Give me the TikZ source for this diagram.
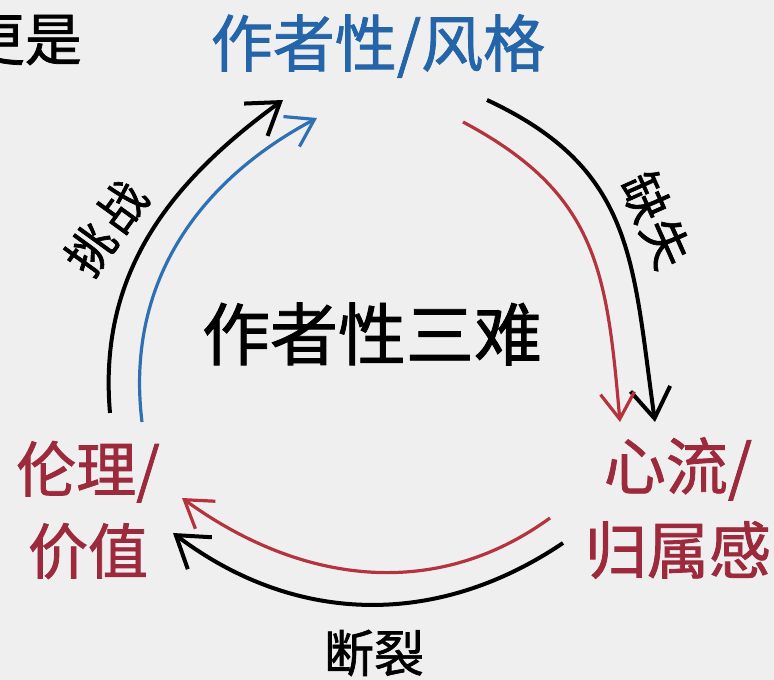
\documentclass[tikz,border=0pt]{standalone}
\usepackage{fontspec}
\setmainfont{Noto Sans CJK SC}[FakeBold=1.3]
\usepackage{xcolor}
\usetikzlibrary{arrows.meta}
\definecolor{bggray}{HTML}{EFEFEF}
\definecolor{styleblue}{HTML}{2464A8}
\definecolor{arcblue}{HTML}{2F70B5}
\definecolor{valred}{HTML}{9C2A3C}
\definecolor{arcred}{HTML}{B5323F}

\begin{document}
\begin{tikzpicture}[x=1pt,y=1pt,
  lbl/.style={inner sep=0pt,font=\fontsize{48}{48}\selectfont},
  blkarc/.style={line width=4pt,-{Straight Barb[length=30pt,width=40pt]}},
  colarc/.style={line width=3.2pt,-{Straight Barb[length=26pt,width=34pt]}}]
\fill[bggray] (0,0) rectangle (774,680);
\useasboundingbox (0,0) rectangle (774,680);
\node[anchor=east,inner sep=0pt,font=\fontsize{57}{57}\selectfont] (pre) at (82,640) {更是};
\node[inner sep=0pt,text=styleblue,font=\fontsize{62}{62}\selectfont] (style) at (378,634) {作者性/风格};
\node[inner sep=0pt,font=\fontsize{68}{68}\selectfont] (tri) at (372,346) {作者性三难};
\node[inner sep=0pt,text=valred,align=center,font=\fontsize{60}{82}\selectfont] (ethic) at (88,170) {伦理/\\价值};
\node[inner sep=0pt,text=valred,align=center,font=\fontsize{62}{84}\selectfont] (flow) at (678,172) {心流/\\归属感};
\coordinate (chal-s) at (110,267);
\coordinate (chal-e) at (283,580);
\coordinate (chalb-s) at (142,258);
\coordinate (chalb-e) at (317,562);
\coordinate (lack-s) at (487,580);
\coordinate (lack-e) at (655,258);
\coordinate (lackr-s) at (463,558);
\coordinate (lackr-e) at (620,258);
\coordinate (brk-s) at (563,137);
\coordinate (brk-e) at (173,147);
\coordinate (brkr-s) at (550,162);
\coordinate (brkr-e) at (182,182);
\draw[blkarc] (chal-s) to[out=95,in=216] (chal-e);
\draw[colarc,arcblue] (chalb-s) to[out=97,in=208] (chalb-e);
\draw[blkarc] (lack-s) to[out=-25,in=98,looseness=1.15] (lack-e);
\draw[colarc,arcred] (lackr-s) to[out=-28,in=95,looseness=1.15] (lackr-e);
\draw[blkarc] (brk-s) to[out=214,in=-37] (brk-e);
\draw[colarc,arcred] (brkr-s) to[out=216,in=-36] (brkr-e);
\node[lbl,rotate=54] (chal) at (106,452) {挑\hspace{0.1em}战};
\node[lbl,rotate=-66] (lack) at (656,460) {缺\hspace{0.05em}失};
\node[lbl,font=\fontsize{50}{50}\selectfont] (brk) at (374,27) {断裂};
\end{tikzpicture}
\end{document}
